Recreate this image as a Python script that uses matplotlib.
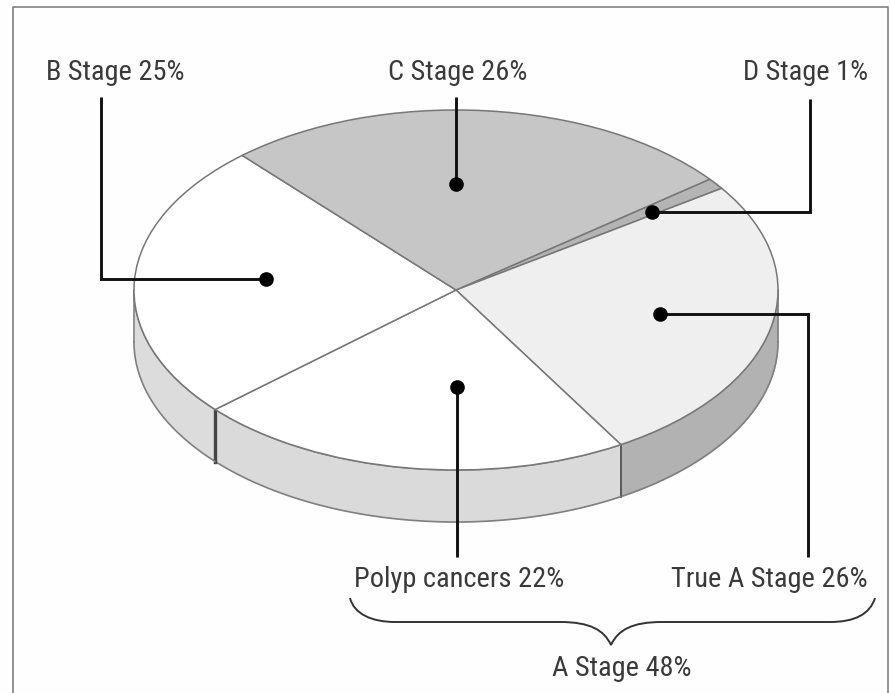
import matplotlib
matplotlib.use('Agg')
import matplotlib.pyplot as plt
from matplotlib.path import Path
from matplotlib.patches import PathPatch
import numpy as np

W, H = 891, 693

# clockwise from the top right, as on the pie
stages = ['D Stage', 'True A Stage', 'Polyp cancers', 'B Stage', 'C Stage']
shares = [1, 26, 22, 25, 26]
top_colors = ['#b4b4b4', '#efefef', '#ffffff', '#ffffff', '#c6c6c6']
wall_colors = {'True A Stage': '#b2b2b2', 'Polyp cancers': '#dadada', 'B Stage': '#dcdcdc'}
group_label = 'A Stage 48%'

cx, cy, rx, ry = 456, 290, 322, 180
depth = 52
start = 38

plt.rcParams['font.family'] = ['Roboto Condensed', 'DejaVu Sans']
fig = plt.figure(figsize=(W / 100, H / 100), dpi=100, facecolor='#fefefe')

# back layer, in image pixels: frame and side wall
back = fig.add_axes([0, 0, 1, 1], zorder=0)
back.set_xlim(0, W)
back.set_ylim(H, 0)
back.axis('off')
back.plot([13, 13, 888, 888], [H, 7, 7, H], color='#808080', lw=1.2)

edges = start - np.cumsum([0] + shares) * 3.6
for name, a0, a1 in zip(stages, edges[:-1], edges[1:]):
    if name not in wall_colors:
        continue
    # keep only the part of the slice on the front of the disc
    a0 = min(a0, 0)
    a1 = max(a1, -180)
    t = np.radians(np.linspace(a0, a1, 120))
    x = cx + rx * np.cos(t)
    y = cy - ry * np.sin(t)
    back.fill_between(x, y, y + depth, color=wall_colors[name], lw=0)
    back.plot(x, y + depth, color='#808080', lw=1.2)
    back.plot(x, y, color='#808080', lw=1.2)
    if a1 > -180:
        back.plot([x[-1], x[-1]], [y[-1], y[-1] + depth], color='#444444', lw=2.4 if name == 'Polyp cancers' else 1.2)
back.plot([cx - rx, cx - rx], [cy, cy + depth], color='#808080', lw=1.2)
back.plot([cx + rx, cx + rx], [cy, cy + depth], color='#808080', lw=1.2)

# top of the disc
ax = fig.add_axes([(cx - rx) / W, 1 - (cy + ry) / H, 2 * rx / W, 2 * ry / H], zorder=1)
ax.pie(shares, colors=top_colors, startangle=start, counterclock=False, radius=1,
       wedgeprops=dict(edgecolor='#777777', linewidth=1.1))
ax.set_aspect('auto')
ax.set_xlim(-1, 1)
ax.set_ylim(-1, 1)
for w in ax.patches:
    w.set_clip_on(False)

# leaders, dots, labels
over = fig.add_axes([0, 0, 1, 1], zorder=2)
over.set_xlim(0, W)
over.set_ylim(H, 0)
over.axis('off')
over.patch.set_alpha(0)

leaders = [
    ([101, 101, 266], [97, 279, 279]),
    ([456, 456], [97, 184]),
    ([810, 810, 652], [99, 212, 212]),
    ([808, 808, 660], [557, 314, 314]),
    ([457, 457], [557, 387]),
]
for xs, ys in leaders:
    over.plot(xs, ys, color='#111111', lw=2.1, solid_joinstyle='miter', solid_capstyle='butt')
    over.plot(xs[-1], ys[-1], 'o', color='black', ms=9.5)

label_pos = {'B Stage': (46, 80, 'left'), 'C Stage': (388, 80, 'left'), 'D Stage': (868, 80, 'right'),
             'True A Stage': (868, 587, 'right'), 'Polyp cancers': (354, 587, 'left')}
for name, share in zip(stages, shares):
    lx, ly, ha = label_pos[name]
    over.text(lx, ly, f'{name} {share}%', ha=ha, va='baseline', fontsize=20.4, color='#3a3a3a')
over.text(622, 676, group_label, ha='center', va='baseline', fontsize=20.4, color='#3a3a3a')

# brace under the two A stage labels
brace = Path(
    [(350, 598), (354, 614), (372, 622), (395, 622),
     (560, 622), (590, 622), (604, 630), (611, 645),
     (618, 630), (632, 622), (662, 622),
     (830, 622), (855, 622), (870, 614), (875, 598)],
    [Path.MOVETO, Path.CURVE4, Path.CURVE4, Path.CURVE4,
     Path.LINETO, Path.CURVE4, Path.CURVE4, Path.CURVE4,
     Path.CURVE4, Path.CURVE4, Path.CURVE4,
     Path.LINETO, Path.CURVE4, Path.CURVE4, Path.CURVE4])
over.add_patch(PathPatch(brace, fill=False, edgecolor='#333333', lw=1.4))

fig.savefig('out.png', dpi=100, facecolor=fig.get_facecolor())
